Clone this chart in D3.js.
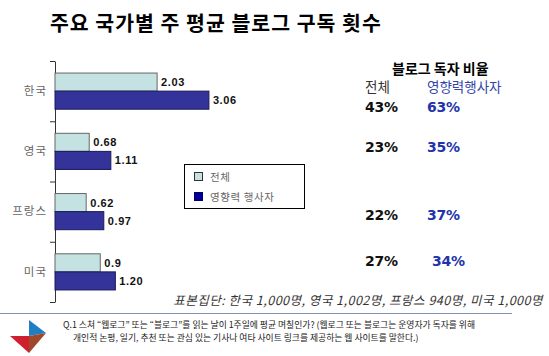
<!DOCTYPE html>
<html><head><meta charset="utf-8">
<script src="https://cdn.jsdelivr.net/npm/d3@7"></script>
<style>body{margin:0;background:#fff}svg{display:block}</style>
</head><body>
<script>
const categories = ["한국", "영국", "프랑스", "미국"];
const seriesNames = ["전체", "영향력 행사자"];
const totalValues = [2.03, 0.68, 0.62, 0.9];
const totalLabels = ["2.03", "0.68", "0.62", "0.9"];
const influencerValues = [3.06, 1.11, 0.97, 1.20];
const influencerLabels = ["3.06", "1.11", "0.97", "1.20"];
const readerTotal = ["43%", "23%", "22%", "27%"];
const readerInfluencer = ["63%", "35%", "37%", "34%"];

const W = 549, H = 356;
const svg = d3.select("body").append("svg").attr("width", W).attr("height", H);
const KR = "'Noto Sans CJK KR', 'Noto Sans', sans-serif";

// Title
svg.append("text").attr("x", 50).attr("y", 31)
  .attr("font-family", KR).attr("font-weight", 700).attr("font-size", 20.5).attr("letter-spacing", 1)
  .attr("fill", "#000").text("주요 국가별 주 평균 블로그 구독 횟수");

// Scales
const x = d3.scaleLinear().domain([0, 1]).range([55, 105.3]);
const y = d3.scaleBand().domain(categories).range([61, 302]).paddingInner(0.4).paddingOuter(0.2);
const yb = d3.scaleLinear().domain([0, categories.length]).range([61, 302]);

// Boundary ticks axis
const axG = svg.append("g").attr("transform", "translate(55,0)")
  .call(d3.axisLeft(yb).tickValues(d3.range(categories.length + 1)).tickSize(5).tickSizeOuter(0).tickFormat(""));
axG.selectAll("path,line").attr("stroke", "#333");
// Category labels
const labG = svg.append("g").attr("transform", "translate(55,0)")
  .call(d3.axisLeft(y).tickSize(0).tickPadding(8));
labG.select(".domain").remove();
labG.selectAll("text").attr("font-family", KR).attr("font-size", 11.5)
  .attr("letter-spacing", 1).attr("fill", "#666");

const half = y.bandwidth() / 2;
const rows = categories.map((c, i) => ({c, i}));
svg.selectAll("rect.tot").data(rows).join("rect").attr("class", "tot")
  .attr("x", x(0)).attr("y", d => y(d.c))
  .attr("width", d => x(totalValues[d.i]) - x(0)).attr("height", half)
  .attr("fill", "#c4e2e2").attr("stroke", "#666").attr("stroke-width", 1);
svg.selectAll("rect.inf").data(rows).join("rect").attr("class", "inf")
  .attr("x", x(0)).attr("y", d => y(d.c) + half)
  .attr("width", d => x(influencerValues[d.i]) - x(0)).attr("height", half)
  .attr("fill", "#333399").attr("stroke", "#1a1a5a").attr("stroke-width", 1);

const valFont = "'Liberation Sans', Arial, sans-serif";
svg.selectAll("text.tv").data(rows).join("text").attr("class", "tv")
  .attr("x", d => x(totalValues[d.i]) + 4).attr("y", d => y(d.c) + half / 2)
  .attr("dy", "0.36em").attr("font-family", valFont).attr("font-weight", 700)
  .attr("font-size", 11).attr("letter-spacing", 0.6).attr("fill", "#111")
  .text(d => totalLabels[d.i]);
svg.selectAll("text.iv").data(rows).join("text").attr("class", "iv")
  .attr("x", d => x(influencerValues[d.i]) + 4).attr("y", d => y(d.c) + half * 1.5)
  .attr("dy", "0.36em").attr("font-family", valFont).attr("font-weight", 700)
  .attr("font-size", 11).attr("letter-spacing", 0.6).attr("fill", "#111")
  .text(d => influencerLabels[d.i]);

// Legend
const lg = svg.append("g");
lg.append("rect").attr("x", 184.5).attr("y", 164.5).attr("width", 120).attr("height", 44)
  .attr("fill", "#fff").attr("stroke", "#000").attr("stroke-width", 1);
const legColors = ["#c4e2e2", "#000099"];
seriesNames.forEach((s, k) => {
  lg.append("rect").attr("x", 194.5).attr("y", 172.5 + k * 20).attr("width", 8).attr("height", 8)
    .attr("fill", legColors[k]).attr("stroke", k ? "#000066" : "#333");
  lg.append("text").attr("x", 210).attr("y", 177 + k * 20).attr("dy", "0.35em")
    .attr("font-family", KR).attr("font-size", 10.5).attr("letter-spacing", 0.6)
    .attr("fill", "#666").text(s);
});

// Right-side reader ratio
svg.append("text").attr("x", 392).attr("y", 74).attr("font-family", KR).attr("font-weight", 700)
  .attr("font-size", 14).attr("fill", "#000").text("블로그 독자 비율");
svg.append("text").attr("x", 365).attr("y", 92).attr("font-family", KR).attr("font-size", 13.5)
  .attr("fill", "#333").text("전체");
svg.append("text").attr("x", 427).attr("y", 92).attr("font-family", KR).attr("font-size", 13.5)
  .attr("fill", "#3344aa").text("영향력행사자");
const pctY = [112, 152, 220, 266];
const pctXInf = [427, 427, 427, 432];
const pf = "'DejaVu Sans', Verdana, sans-serif";
rows.forEach(d => {
  svg.append("text").attr("x", 365).attr("y", pctY[d.i]).attr("font-family", pf).attr("font-weight", 700)
    .attr("font-size", 14).attr("letter-spacing", -0.3).attr("fill", "#111").text(readerTotal[d.i]);
  svg.append("text").attr("x", pctXInf[d.i]).attr("y", pctY[d.i]).attr("font-family", pf).attr("font-weight", 700)
    .attr("font-size", 14).attr("letter-spacing", -0.3).attr("fill", "#2233aa").text(readerInfluencer[d.i]);
});

// Footer sample note
svg.append("text").attr("x", 543).attr("y", 305).attr("text-anchor", "end")
  .attr("font-family", KR).attr("font-style", "italic").attr("font-size", 12.5).attr("letter-spacing", 0.5)
  .attr("fill", "#333").text("표본집단: 한국 1,000명, 영국 1,002명, 프랑스 940명, 미국 1,000명");
svg.append("line").attr("x1", 0).attr("x2", 512).attr("y1", 313.5).attr("y2", 313.5)
  .attr("stroke", "#7f93b8").attr("stroke-width", 1.2);

// Logo
svg.append("path").attr("d", "M29,320 L46,333 L29,336 Z").attr("fill", "#1f7fc4");
svg.append("path").attr("d", "M10,336 L29,336 L29,353 Z").attr("fill", "#d0202f");
svg.append("path").attr("d", "M29,336 L46,333 L29,353 Z").attr("fill", "#a0492a");

// Question text
svg.append("text").attr("x", 63).attr("y", 328).attr("font-family", KR).attr("font-size", 8.8)
  .attr("fill", "#222").text("Q.1 스쳐 \u201C웹로그\u201D 또는 \u201C블로그\u201D를 읽는 날이 1주일에 평균 며칠인가? (웹로그 또는 블로그는 운영자가 독자를 위해");
svg.append("text").attr("x", 73).attr("y", 341).attr("font-family", KR).attr("font-size", 8.8)
  .attr("fill", "#222").text("개인적 논평, 일기, 추천 또는 관심 있는 기사나 여타 사이트 링크를 제공하는 웹 사이트를 말한다.)");
</script>
</body></html>
